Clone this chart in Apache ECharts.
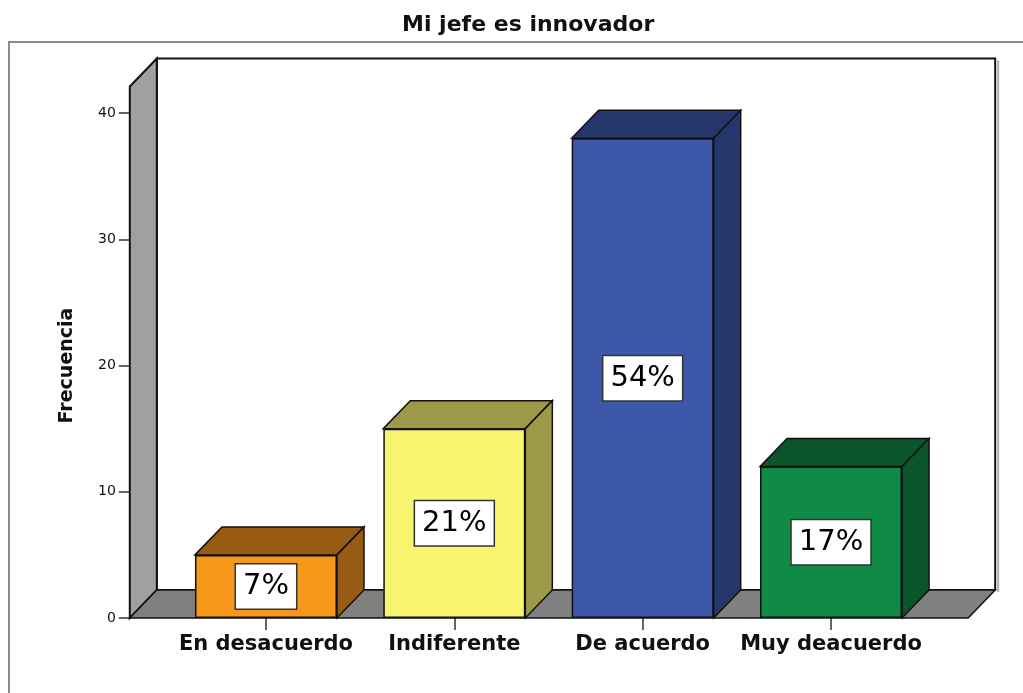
<!DOCTYPE html>
<html>
<head>
<meta charset="utf-8">
<script src="https://cdn.jsdelivr.net/npm/echarts@6/dist/echarts.min.js"></script>
<style>
  html, body { margin: 0; padding: 0; background: #fff; }
  #chart { width: 1023px; height: 693px; }
</style>
</head>
<body>
<div id="chart"></div>
<script>
// datos
const categories = ['En desacuerdo', 'Indiferente', 'De acuerdo', 'Muy deacuerdo'];
const frecuencias = [5, 15, 38, 12];
const porcentajes = ['7%', '21%', '54%', '17%'];
const yTicks = [0, 10, 20, 30, 40];

// colores de cada barra: cara frontal y caras superior/lateral
const frontColors = ['#f7981d', '#f8f46e', '#3d58a9', '#0f8b46'];
const darkColors = ['#975b13', '#9c9a48', '#25366b', '#0a5529'];

// efecto 3D
const DX = 27, DY = -28;
const WALL_TOP = 42.1;
const BAR_W = 0.754;

const myChart = echarts.init(document.getElementById('chart'));

// paredes y suelo
function renderWalls(params, api) {
    const cs = params.coordSys;
    const base = api.coord([0, 0])[1];
    const top = api.coord([0, WALL_TOP])[1];
    const x0 = cs.x - 42;
    const x1 = cs.x + cs.width + 43;
    return {
        type: 'group',
        children: [
            {
                type: 'rect',
                shape: { x: x0 + DX, y: top + DY, width: x1 - x0, height: base - top },
                style: { fill: '#fff', stroke: '#111', lineWidth: 2 }
            },
            {
                type: 'line',
                shape: { x1: x1 + DX + 3, y1: top + DY + 2, x2: x1 + DX + 3, y2: base + DY + 2 },
                style: { stroke: '#b0b0b0', lineWidth: 2 }
            },
            {
                type: 'polygon',
                shape: { points: [[x0, base], [x0 + DX, base + DY], [x0 + DX, top + DY], [x0, top]] },
                style: { fill: '#a0a0a0', stroke: '#111', lineWidth: 2 }
            },
            {
                type: 'polygon',
                shape: { points: [[x0, base], [x1, base], [x1 + DX, base + DY], [x0 + DX, base + DY]] },
                style: { fill: '#808080', stroke: '#111', lineWidth: 1.5 }
            }
        ]
    };
}

// caras superior y lateral de cada barra
function renderFaces(params, api) {
    const i = api.value(0);
    const p = api.coord([i, api.value(1)]);
    const b = api.coord([i, 0]);
    const w = api.size([1, 0])[0] * BAR_W;
    const l = p[0] - w / 2, r = p[0] + w / 2;
    const st = { fill: darkColors[params.dataIndex], stroke: '#111', lineWidth: 1.5 };
    return {
        type: 'group',
        children: [
            {
                type: 'polygon',
                shape: { points: [[l, p[1]], [l + DX, p[1] + DY], [r + DX, p[1] + DY], [r, p[1]]] },
                style: st
            },
            {
                type: 'polygon',
                shape: { points: [[r, p[1]], [r + DX, p[1] + DY], [r + DX, b[1] + DY], [r, b[1]]] },
                style: st
            }
        ]
    };
}

let option = {
    backgroundColor: '#fff',
    animation: false,
    title: {
        text: 'Mi jefe es innovador',
        left: 397,
        top: 9,
        textStyle: {
            fontFamily: 'DejaVu Sans',
            fontSize: 22,
            fontWeight: 'bold',
            color: '#111'
        }
    },
    graphic: [{
        type: 'rect',
        shape: { x: 9, y: 42, width: 1100, height: 700 },
        style: { fill: 'none', stroke: '#8a8a8a', lineWidth: 2 },
        z: -1
    }],
    grid: {
        left: 171.8,
        right: 97.8,
        top: 113,
        bottom: 75
    },
    xAxis: {
        type: 'category',
        data: categories,
        axisLine: { show: false },
        axisTick: {
            show: true,
            interval: 0,
            alignWithLabel: true,
            length: 12,
            lineStyle: { color: '#333', width: 1.5 }
        },
        axisLabel: {
            interval: 0,
            margin: 16,
            fontFamily: 'DejaVu Sans',
            fontSize: 21,
            fontWeight: 'bold',
            color: '#111'
        },
        splitLine: { show: false }
    },
    yAxis: {
        type: 'value',
        min: yTicks[0],
        max: yTicks[yTicks.length - 1],
        interval: 10,
        offset: 42,
        name: 'Frecuencia',
        nameLocation: 'middle',
        nameRotate: 90,
        nameGap: 53,
        nameTextStyle: {
            fontFamily: 'DejaVu Sans',
            fontSize: 19,
            fontWeight: 'bold',
            color: '#111'
        },
        axisLine: { show: false },
        axisTick: {
            show: true,
            length: 11,
            lineStyle: { color: '#333', width: 1.5 }
        },
        axisLabel: {
            margin: 14,
            fontFamily: 'DejaVu Sans',
            fontSize: 14,
            color: '#111'
        },
        splitLine: { show: false }
    },
    series: [
        {
            type: 'custom',
            z: 1,
            silent: true,
            renderItem: renderWalls,
            data: [[0, 0]]
        },
        {
            type: 'custom',
            z: 2,
            renderItem: renderFaces,
            data: frecuencias.map((v, i) => [i, v])
        },
        {
            name: 'Frecuencia',
            type: 'bar',
            z: 3,
            barWidth: (BAR_W * 100) + '%',
            data: frecuencias.map((v, i) => ({
                value: v,
                itemStyle: { color: frontColors[i] }
            })),
            itemStyle: {
                borderColor: '#111',
                borderWidth: 1.5
            },
            label: {
                show: true,
                position: 'inside',
                formatter: (p) => porcentajes[p.dataIndex],
                fontFamily: 'DejaVu Sans',
                fontSize: 29,
                lineHeight: 32,
                color: '#000',
                backgroundColor: '#fff',
                borderColor: '#333',
                borderWidth: 1.5,
                padding: [6, 7, 6, 7]
            }
        }
    ]
};
option && myChart.setOption(option);
</script>
</body>
</html>
